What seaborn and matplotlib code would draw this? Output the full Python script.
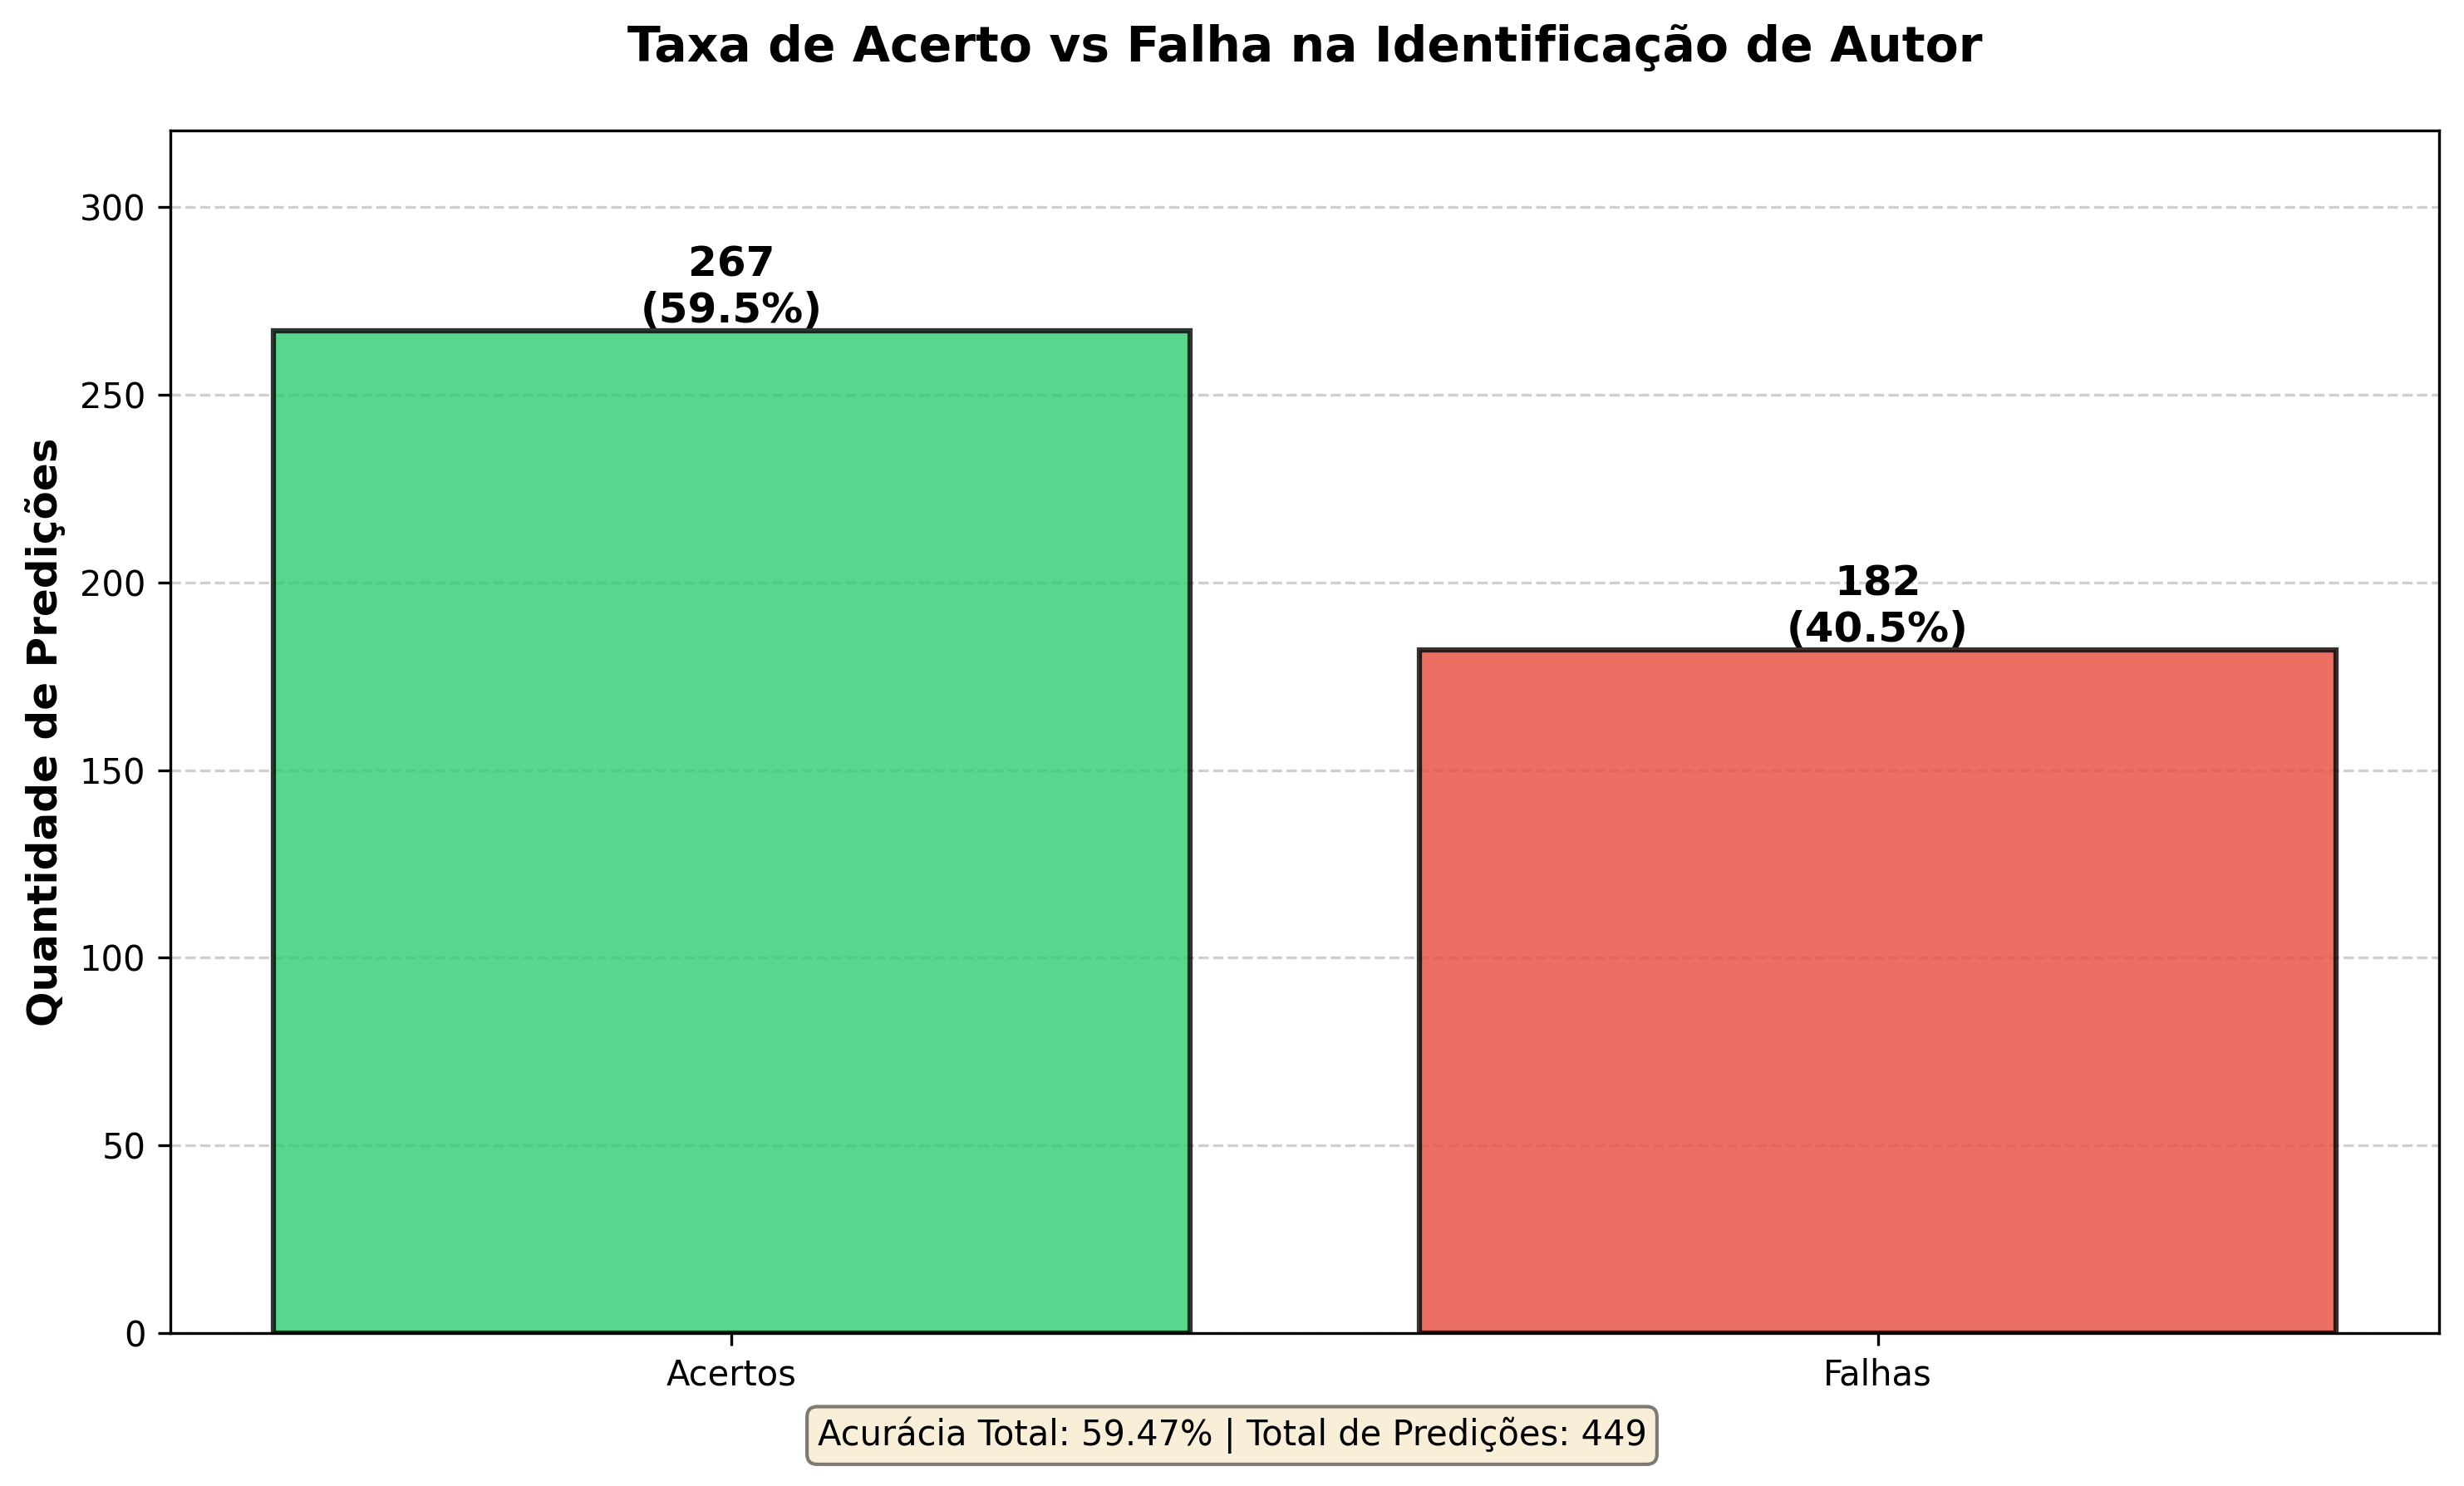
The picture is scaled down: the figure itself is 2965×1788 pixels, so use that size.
import pandas as pd
import matplotlib
matplotlib.use("Agg")
import matplotlib.pyplot as plt
import seaborn as sns

# Dados do gráfico
categorias = ["Acertos", "Falhas"]
quantidades = [267, 182]
cores = ["#2ecc71", "#e74c3c"]

total = sum(quantidades)
percentuais = [q / total * 100 for q in quantidades]
acuracia = quantidades[0] / total * 100

df = pd.DataFrame({"categoria": categorias, "quantidade": quantidades})

fig, ax = plt.subplots(figsize=(2965 / 300, 1788 / 300), dpi=300)
fig.subplots_adjust(left=0.069, right=0.99, top=0.912, bottom=0.103)

sns.barplot(data=df, x="categoria", y="quantidade", hue="categoria",
            palette=cores, legend=False, ax=ax, width=0.8, saturation=1,
            alpha=0.8, edgecolor="black", linewidth=1.5)

for i, (q, p) in enumerate(zip(quantidades, percentuais)):
    ax.text(i, q, f"{q}\n({p:.1f}%)", ha="center", va="bottom",
            fontsize=12, fontweight="bold")

ax.set_xlim(-0.49, 1.49)
ax.set_ylim(0, max(quantidades) * 1.2)
ax.set_xlabel("")
ax.set_ylabel("Quantidade de Predições", fontsize=12, fontweight="bold")
ax.set_title("Taxa de Acerto vs Falha na Identificação de Autor",
             fontsize=14, fontweight="bold", pad=20)
ax.yaxis.grid(True, linestyle="--", alpha=0.7, color="#bbbbbb")
ax.set_axisbelow(True)

fig.text(0.5, 0.034,
         f"Acurácia Total: {acuracia:.2f}% | Total de Predições: {total}",
         ha="center", va="center", fontsize=10,
         bbox=dict(boxstyle="round", facecolor="wheat", alpha=0.5))

fig.savefig("out.png", dpi=300)
